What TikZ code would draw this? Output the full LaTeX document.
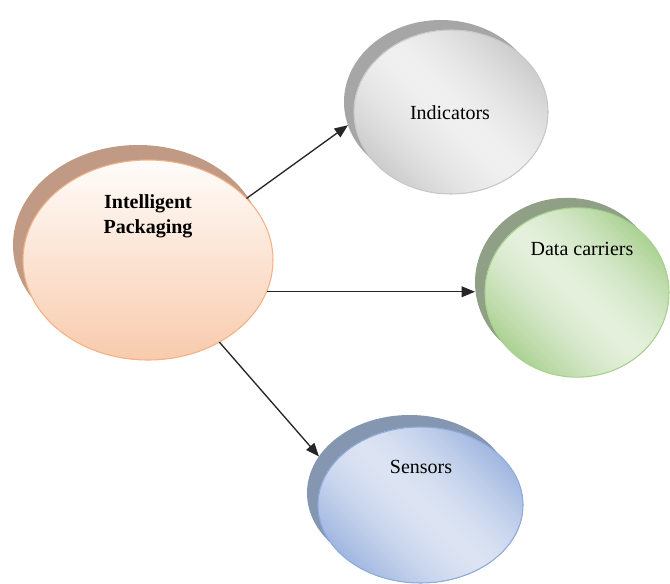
\documentclass[tikz,border=0pt]{standalone}
\usepackage{fontspec}
\setmainfont{Liberation Serif}
\usetikzlibrary{shapes.geometric,arrows.meta}
\definecolor{ipsh}{RGB}{192,154,132}
\definecolor{ipbd}{RGB}{244,177,131}
\definecolor{iptop}{RGB}{255,252,250}
\definecolor{ipbot}{RGB}{248,203,173}
\definecolor{indsh}{RGB}{166,166,166}
\definecolor{indbd}{RGB}{200,200,200}
\definecolor{inddk}{RGB}{205,205,205}
\definecolor{indlt}{RGB}{240,240,240}
\definecolor{dcsh}{RGB}{143,160,135}
\definecolor{dcbd}{RGB}{169,209,142}
\definecolor{dcdk}{RGB}{172,210,148}
\definecolor{dclt}{RGB}{228,240,220}
\definecolor{sesh}{RGB}{132,150,176}
\definecolor{sebd}{RGB}{143,170,220}
\definecolor{sedk}{RGB}{160,183,225}
\definecolor{selt}{RGB}{220,228,243}
\tikzset{
  oval/.style={ellipse, inner sep=0pt, outer sep=0pt, line width=0.8pt},
  shadowoval/.style={ellipse, inner sep=0pt, outer sep=0pt, draw=none},
  lbl/.style={anchor=base, font=\fontsize{15}{18.75}\selectfont, text=black},
  conn/.style={line width=1pt, draw=black!85, -{Triangle[length=10pt,width=8pt]}}
}
% diagonal gradient: cx, cy, rx(px), ry(px), dark, light, half-span(px)
\newcommand\mydiagfill[7]{%
  \begin{scope}
    \clip (#1,#2) ellipse [x radius=#3*0.75pt, y radius=#4*0.75pt];
    \foreach \k in {30,29,...,0}{%
      \pgfmathsetmacro\myw{#7*\k/30}%
      \pgfmathtruncatemacro\myp{100*(\k/30)^1.6}%
      \fill[fill=#5!\myp!#6, shift={(#1,#2)}, rotate=-45] (-300,-\myw) rectangle (300,\myw);
    }
  \end{scope}}
\begin{document}
\begin{tikzpicture}[x=0.75pt,y=-0.75pt]
\useasboundingbox (0,0) rectangle (670,584);
% Intelligent Packaging
\node[shadowoval, fill=ipsh, minimum width=187.5pt, minimum height=150pt] (ipshadow) at (138,245) {};
\node[oval, draw=ipbd, top color=iptop, bottom color=ipbot, minimum width=187.5pt, minimum height=150pt] (ip) at (148,260) {};
\node[lbl, font=\fontsize{15}{18.75}\selectfont\bfseries, align=center, anchor=base] (iptext) at (148,234) {Intelligent\\Packaging};
% Indicators
\node[shadowoval, fill=indsh, minimum width=145.5pt, minimum height=123pt] (indshadow) at (441,102) {};
\mydiagfill{451}{112}{97}{82}{inddk}{indlt}{90}
\node[oval, draw=indbd, minimum width=145.5pt, minimum height=123pt] (ind) at (451,112) {};
\node[lbl] (indtext) at (450,120) {Indicators};
% Data carriers
\node[shadowoval, fill=dcsh, minimum width=138pt, minimum height=127pt] (dcshadow) at (567,282.5) {};
\mydiagfill{577}{292.5}{92}{84.5}{dcdk}{dclt}{88}
\node[oval, draw=dcbd, minimum width=138pt, minimum height=127pt] (dc) at (577,292.5) {};
\node[lbl] (dctext) at (582,256) {Data carriers};
% Sensors
\node[shadowoval, fill=sesh, minimum width=153.75pt, minimum height=117pt] (seshadow) at (409.5,493) {};
\mydiagfill{420.5}{505}{102.5}{78}{sedk}{selt}{91}
\node[oval, draw=sebd, minimum width=153.75pt, minimum height=117pt] (se) at (420.5,505) {};
\node[lbl] (setext) at (421,473) {Sensors};
% connectors
\draw[conn] (ip.32.2) -- (indshadow.194.5);
\draw[conn] (ip.-15.4) -- (ip.-15.4 -| dcshadow.west);
\draw[conn] (ip.-49.7) -- (seshadow.158.5);
\end{tikzpicture}
\end{document}
